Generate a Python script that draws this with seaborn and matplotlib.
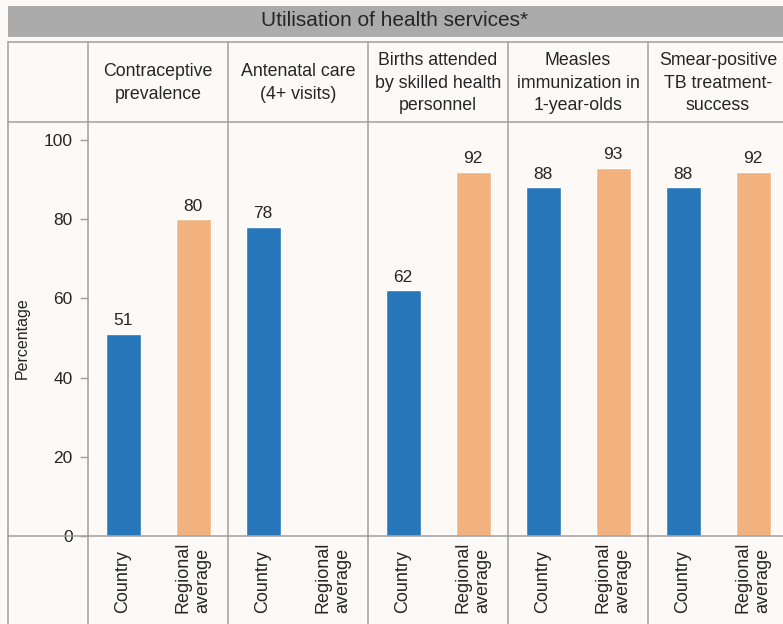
import numpy as np
import pandas as pd
import matplotlib
matplotlib.use("Agg")
import matplotlib.pyplot as plt
from matplotlib.lines import Line2D
from matplotlib.patches import Rectangle
import seaborn as sns

# data
indicators = ["Contraceptive\nprevalence",
              "Antenatal care\n(4+ visits)",
              "Births attended\nby skilled health\npersonnel",
              "Measles\nimmunization in\n1-year-olds",
              "Smear-positive\nTB treatment-\nsuccess"]
groups = ["Country", "Regional average"]
group_labels = ["Country", "Regional\naverage"]
country = [51, 78, 62, 88, 88]
regional = [80, np.nan, 92, 93, 92]
yticks = [0, 20, 40, 60, 80, 100]

df = pd.DataFrame({
    "indicator": indicators * 2,
    "group": [groups[0]] * len(indicators) + [groups[1]] * len(indicators),
    "value": country + regional,
})

sns.set_theme(style="white")
plt.rcParams["font.family"] = ["Liberation Sans", "DejaVu Sans"]

bg = "#fcf9f6"
line_col = "#a0a0a0"
text_col = "#262626"
palette = {"Country": "#2776ba", "Regional average": "#f1b27f"}

W, H = 783, 624
fig = plt.figure(figsize=(W / 100, H / 100), dpi=100, facecolor=bg)

def fx(px):
    return px / W

def fy(py):
    return 1 - py / H

# layout in pixels
left0, col_w = 88, 140
top_tab, head_bot, base = 42, 122, 536

# title bar
fig.add_artist(Rectangle((fx(8), fy(37)), fx(W - 8), fy(6) - fy(37),
                         transform=fig.transFigure, facecolor="#ababab",
                         edgecolor="none"))
fig.text(fx(395), fy(21), "Utilisation of health services*", ha="center",
         va="center", fontsize=15, color=text_col)

# panels
for i, ind in enumerate(indicators):
    ax = fig.add_axes([fx(left0 + col_w * i), fy(base), fx(col_w),
                       fy(head_bot) - fy(base)])
    ax.set_facecolor("none")
    sub = df[df["indicator"] == ind]
    sns.barplot(data=sub, x="group", y="value", hue="group", order=groups,
                hue_order=groups, palette=palette, width=0.5, errorbar=None,
                legend=False, saturation=1, ax=ax)
    for c in ax.containers:
        ax.bar_label(c, fmt="%.0f", padding=4, fontsize=12.5, color=text_col)
    ax.set_xlim(-0.5, 1.5)
    ax.set_ylim(0, 104.5)
    ax.set_xlabel("")
    ax.set_ylabel("")
    for s in ax.spines.values():
        s.set_visible(False)
    ax.set_xticks([0, 1])
    ax.set_xticklabels(["", ""])
    ax.tick_params(axis="x", which="major", length=0)
    ax.set_xticks([0.5], minor=True)
    ax.tick_params(axis="x", which="minor", length=5, width=1,
                   color=line_col, direction="out")
    if i == 0:
        ax.set_yticks(yticks)
        ax.tick_params(axis="y", length=6, width=1, color=line_col, pad=5,
                       labelsize=12.5, labelcolor=text_col, left=True)
    else:
        ax.set_yticks([])
    for j, lab in enumerate(group_labels):
        ax.text(j, -0.185, lab, transform=ax.get_xaxis_transform(),
                rotation=90, ha="center", va="bottom", multialignment="left",
                fontsize=13, color=text_col, linespacing=1.25)
    fig.text(fx(left0 + col_w * i + col_w / 2), fy(83), ind, ha="center",
             va="center", fontsize=12.8, color=text_col, linespacing=1.42)

fig.text(fx(22), fy(338), "Percentage", rotation=90, ha="center",
         va="center", fontsize=11.5, color=text_col)

# table lines
for x in [8, 88, 228, 368, 508, 648]:
    fig.add_artist(Line2D([fx(x), fx(x)], [fy(top_tab), fy(H)],
                          transform=fig.transFigure, color=line_col, lw=1.1))
for y in [top_tab, head_bot, base]:
    fig.add_artist(Line2D([fx(8), fx(W)], [fy(y), fy(y)],
                          transform=fig.transFigure, color=line_col, lw=1.1))

fig.savefig("out.png", dpi=100, facecolor=bg)
